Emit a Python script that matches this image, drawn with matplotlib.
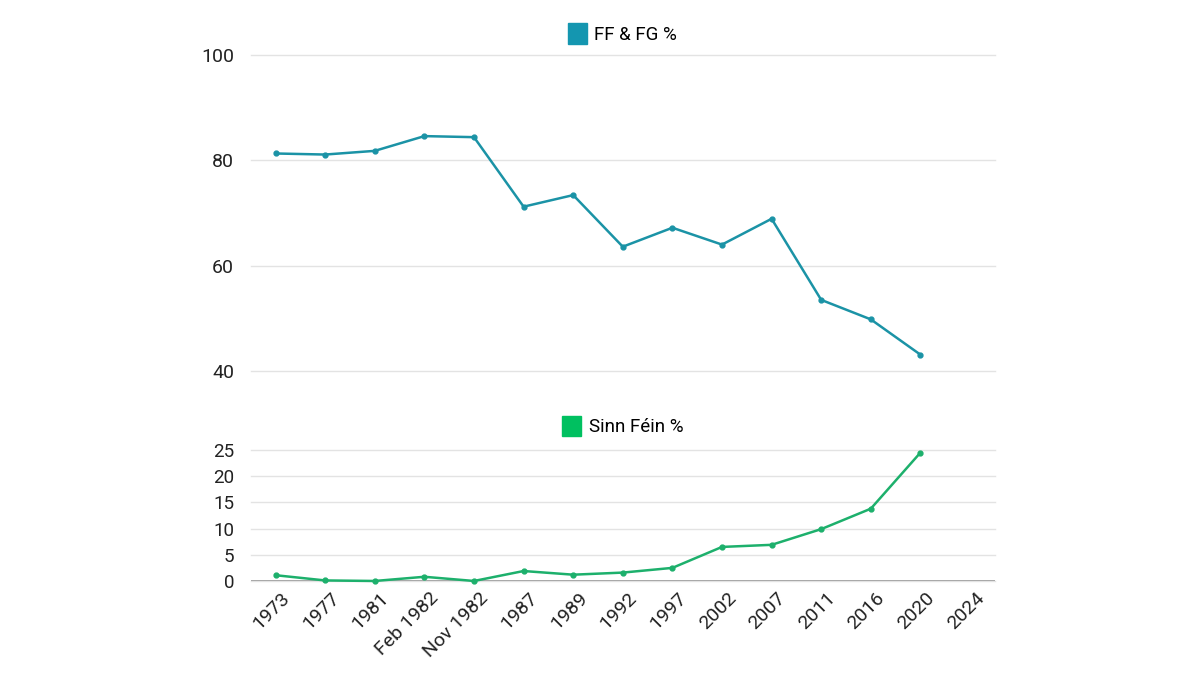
import matplotlib
matplotlib.use("Agg")
import matplotlib.pyplot as plt
from matplotlib.patches import Patch
from matplotlib.transforms import ScaledTranslation

elections = ["1973", "1977", "1981", "Feb 1982", "Nov 1982", "1987", "1989",
             "1992", "1997", "2002", "2007", "2011", "2016", "2020", "2024"]
ff_fg = [81.3, 81.1, 81.8, 84.6, 84.4, 71.2, 73.4, 63.6, 67.2, 64.0, 68.9,
         53.5, 49.8, 43.1]
sinn_fein = [1.1, 0.1, 0.0, 0.8, 0.0, 1.9, 1.2, 1.6, 2.5, 6.5, 6.9, 9.9,
             13.8, 24.5]

top_ticks = [40, 60, 80, 100]
bot_ticks = [0, 5, 10, 15, 20, 25]

teal = "#1b93a6"
teal_sq = "#1496b0"
green = "#1db06c"
green_sq = "#00c060"
font = "Roboto"
plt.rcParams['font.family'] = [font, 'DejaVu Sans']

fig = plt.figure(figsize=(12, 6.75), dpi=100)
ax1 = fig.add_axes([0.209, 0.4504, 0.62, 0.4681])
ax2 = fig.add_axes([0.209, 0.1393, 0.62, 0.1940])

x1 = list(range(len(ff_fg)))
x2 = list(range(len(sinn_fein)))

ax1.plot(x1, ff_fg, color=teal, lw=1.8, marker="o", ms=3.5, zorder=3, clip_on=False)
ax2.plot(x2, sinn_fein, color=green, lw=1.8, marker="o", ms=3.5, zorder=3, clip_on=False)

for ax in (ax1, ax2):
    ax.set_xlim(-0.5, len(elections) - 0.5)
    for s in ax.spines.values():
        s.set_visible(False)
    ax.tick_params(axis="both", length=0, labelsize=13.5, colors="#222222")
    ax.tick_params(axis="y", pad=12)
    ax.grid(axis="y", color="#e3e3e3", lw=1, clip_on=False)
    ax.set_axisbelow(True)

ax1.set_ylim(40, 100)
ax1.set_yticks(top_ticks)
ax1.set_xticks([])
ax1.tick_params(axis="y", labelsize=14)

ax2.set_ylim(0, 25)
ax2.set_yticks(bot_ticks)
ax2.set_xticks(range(len(elections)))
ax2.set_xticklabels(elections, rotation=45, ha="right", rotation_mode="anchor")
ax2.tick_params(axis="x", pad=6, labelsize=14)
offset = ScaledTranslation(5 / 100, 0, fig.dpi_scale_trans)
for lab in ax2.get_xticklabels():
    lab.set_transform(lab.get_transform() + offset)
ax2.axhline(0, color="#999999", lw=1.2, zorder=2)

ax1.legend(handles=[Patch(color=teal_sq, label="FF & FG %")], loc="lower center",
           bbox_to_anchor=(0.5, 1.0), frameon=False, fontsize=13.5,
           handlelength=1.0, handleheight=1.3, handletextpad=0.4, borderaxespad=0.2)
ax2.legend(handles=[Patch(color=green_sq, label="Sinn Féin %")], loc="lower center",
           bbox_to_anchor=(0.5, 1.02), frameon=False, fontsize=13.5,
           handlelength=1.0, handleheight=1.3, handletextpad=0.4, borderaxespad=0.2)

fig.savefig("out.png", dpi=100)
